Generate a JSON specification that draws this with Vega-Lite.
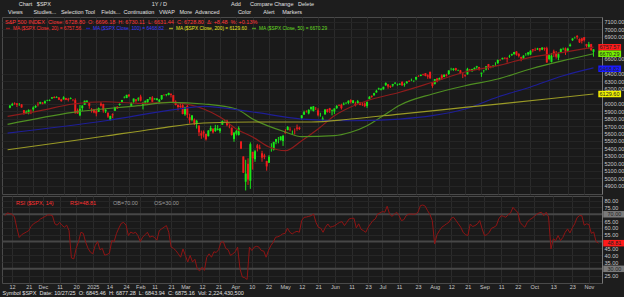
{
"$schema":"https://vega.github.io/schema/vega-lite/v6.json",
"background":"#1d1d1d",
"padding":{"left":0,"right":0,"top":1,"bottom":0},
"config":{"font":"Liberation Sans","view":{"stroke":"#4a4a4a","fill":"#1a1a1a"},"axis":{"labelFontSize":5.5,"labelColor":"#c8c8c8","ticks":false,"gridColor":"#2b2b2b","domainColor":"#777","labelOverlap":false,"tickCount":200}},
"title":{"text":"\u200b\u00a0\u00a0\u00a0\u00a0\u00a0\u00a0\u00a0\u00a0\u00a0\u00a0\u00a0Chart\u00a0\u00a0\u00a0$SPX\u00a0\u00a0\u00a0\u00a0\u00a0\u00a0\u00a0\u00a0\u00a0\u00a0\u00a0\u00a0\u00a0\u00a0\u00a0\u00a0\u00a0\u00a0\u00a0\u00a0\u00a0\u00a0\u00a0\u00a0\u00a0\u00a0\u00a0\u00a0\u00a0\u00a0\u00a0\u00a0\u00a0\u00a0\u00a0\u00a0\u00a0\u00a0\u00a0\u00a0\u00a0\u00a0\u00a0\u00a0\u00a0\u00a0\u00a0\u00a0\u00a0\u00a0\u00a0\u00a0\u00a0\u00a0\u00a0\u00a0\u00a0\u00a0\u00a0\u00a0\u00a0\u00a0\u00a0\u00a0\u00a0\u00a01Y / D\u00a0\u00a0\u00a0\u00a0\u00a0\u00a0\u00a0\u00a0\u00a0\u00a0\u00a0\u00a0\u00a0\u00a0\u00a0\u00a0\u00a0\u00a0\u00a0\u00a0\u00a0\u00a0\u00a0\u00a0\u00a0\u00a0\u00a0\u00a0\u00a0\u00a0\u00a0\u00a0\u00a0\u00a0\u00a0\u00a0\u00a0\u00a0\u00a0\u00a0\u00a0\u00a0Add\u00a0\u00a0\u00a0\u00a0\u00a0\u00a0Compare\u00a0Change\u00a0\u00a0\u00a0Delete","subtitle":"\u200b\u00a0\u00a0\u00a0\u00a0Views\u00a0\u00a0\u00a0\u00a0\u00a0\u00a0\u00a0Studies...\u00a0\u00a0\u00a0Selection Tool\u00a0\u00a0\u00a0\u00a0Fields...\u00a0\u00a0Continuation\u00a0\u00a0\u00a0VWAP\u00a0\u00a0\u00a0More\u00a0\u00a0Advanced\u00a0\u00a0\u00a0\u00a0\u00a0\u00a0\u00a0\u00a0\u00a0\u00a0\u00a0\u00a0Color\u00a0\u00a0\u00a0\u00a0\u00a0\u00a0\u00a0\u00a0Alert\u00a0\u00a0\u00a0\u00a0\u00a0Markers","anchor":"start","frame":"group","fontSize":5.5,"subtitleFontSize":5.5,"fontWeight":"normal","color":"#e0e0e0","subtitleColor":"#e0e0e0","offset":1,"subtitlePadding":3},
"resolve":{"scale":{"color":"independent","stroke":"independent","fill":"independent"},"legend":{"color":"independent","stroke":"independent"}},
"spacing":0,
"datasets":{
"k":[
{"i":-3,"o":5945,"h":5983,"l":5939,"c":5973,"r":69},
{"i":-2,"o":5977,"h":6012,"l":5970,"c":5995,"r":71},
{"i":-1,"o":6008,"h":6018,"l":5986,"c":6001,"r":70.5},
{"i":0,"o":6003,"h":6008,"l":5955,"c":5984,"r":70},
{"i":1,"o":5985,"h":6009,"l":5971,"c":5985,"r":68},
{"i":2,"o":5990,"h":5993,"l":5946,"c":5949,"r":60},
{"i":3,"o":5913,"h":5916,"l":5853,"c":5871,"r":53},
{"i":4,"o":5866,"h":5909,"l":5865,"c":5893,"r":55},
{"i":5,"o":5870,"h":5923,"l":5857,"c":5917,"r":56},
{"i":6,"o":5918,"h":5920,"l":5860,"c":5917,"r":57},
{"i":7,"o":5924,"h":5963,"l":5885,"c":5949,"r":58},
{"i":8,"o":5951,"h":5980,"l":5943,"c":5969,"r":61},
{"i":9,"o":5992,"h":6020,"l":5963,"c":5987,"r":63},
{"i":10,"o":6001,"h":6026,"l":5994,"c":6021,"r":64},
{"i":11,"o":6015,"h":6020,"l":5992,"c":5999,"r":65},
{"i":12,"o":6004,"h":6044,"l":6004,"c":6032,"r":66.6},
{"i":13,"o":6041,"h":6053,"l":6033,"c":6047,"r":67.5},
{"i":14,"o":6042,"h":6057,"l":6034,"c":6050,"r":68.5},
{"i":15,"o":6069,"h":6087,"l":6066,"c":6086,"r":69.5},
{"i":16,"o":6090,"h":6100,"l":6074,"c":6075,"r":69.5},
{"i":17,"o":6081,"h":6100,"l":6078,"c":6090,"r":69},
{"i":18,"o":6083,"h":6088,"l":6048,"c":6053,"r":63},
{"i":19,"o":6058,"h":6065,"l":6026,"c":6034,"r":62},
{"i":20,"o":6057,"h":6100,"l":6057,"c":6085,"r":64},
{"i":21,"o":6075,"h":6079,"l":6047,"c":6051,"r":62},
{"i":22,"o":6064,"h":6079,"l":6030,"c":6051,"r":60.5},
{"i":23,"o":6063,"h":6085,"l":6059,"c":6074,"r":62},
{"i":24,"o":6053,"h":6058,"l":6033,"c":6050,"r":58},
{"i":25,"o":6047,"h":6071,"l":5867,"c":5872,"r":38},
{"i":26,"o":5912,"h":5935,"l":5866,"c":5867,"r":37.3},
{"i":27,"o":5843,"h":5982,"l":5832,"c":5931,"r":45},
{"i":28,"o":5940,"h":5979,"l":5902,"c":5975,"r":50},
{"i":29,"o":5984,"h":6040,"l":5984,"c":6040,"r":56.8},
{"i":30,"o":6024,"h":6049,"l":6007,"c":6037,"r":56},
{"i":31,"o":6006,"h":6007,"l":5932,"c":5971,"r":49.5},
{"i":32,"o":5921,"h":5941,"l":5880,"c":5907,"r":45},
{"i":33,"o":5920,"h":5930,"l":5871,"c":5882,"r":42.2},
{"i":34,"o":5904,"h":5935,"l":5830,"c":5869,"r":41},
{"i":35,"o":5891,"h":5949,"l":5888,"c":5942,"r":47},
{"i":36,"o":6001,"h":6022,"l":5962,"c":5975,"r":50},
{"i":37,"o":5994,"h":6000,"l":5878,"c":5909,"r":44},
{"i":38,"o":5897,"h":5927,"l":5874,"c":5918,"r":45},
{"i":39,"o":5879,"h":5880,"l":5809,"c":5827,"r":40},
{"i":40,"o":5782,"h":5838,"l":5773,"c":5836,"r":40.5},
{"i":41,"o":5859,"h":5871,"l":5805,"c":5843,"r":41.5},
{"i":42,"o":5905,"h":5960,"l":5905,"c":5950,"r":50.7},
{"i":43,"o":5961,"h":5964,"l":5930,"c":5937,"r":50},
{"i":44,"o":5983,"h":6003,"l":5973,"c":5997,"r":56},
{"i":45,"o":6015,"h":6051,"l":6007,"c":6049,"r":60},
{"i":46,"o":6082,"h":6100,"l":6071,"c":6086,"r":63.4},
{"i":47,"o":6077,"h":6119,"l":6074,"c":6119,"r":64},
{"i":48,"o":6121,"h":6128,"l":6088,"c":6101,"r":62},
{"i":49,"o":5970,"h":6017,"l":5962,"c":6012,"r":54.4},
{"i":50,"o":6027,"h":6070,"l":6001,"c":6068,"r":57},
{"i":51,"o":6057,"h":6062,"l":6012,"c":6039,"r":56},
{"i":52,"o":6058,"h":6086,"l":6034,"c":6071,"r":56.8},
{"i":53,"o":6096,"h":6120,"l":6030,"c":6041,"r":54.4},
{"i":54,"o":5969,"h":6023,"l":5923,"c":5994,"r":50},
{"i":55,"o":5991,"h":6042,"l":5991,"c":6038,"r":53.2},
{"i":56,"o":6020,"h":6062,"l":6007,"c":6061,"r":55},
{"i":57,"o":6073,"h":6084,"l":6052,"c":6084,"r":56.8},
{"i":58,"o":6083,"h":6101,"l":6020,"c":6026,"r":53.2},
{"i":59,"o":6059,"h":6074,"l":6054,"c":6066,"r":54},
{"i":60,"o":6050,"h":6076,"l":6043,"c":6069,"r":53},
{"i":61,"o":6025,"h":6063,"l":6004,"c":6052,"r":51},
{"i":62,"o":6060,"h":6116,"l":6050,"c":6115,"r":58},
{"i":63,"o":6116,"h":6127,"l":6107,"c":6115,"r":59.3},
{"i":64,"o":6121,"h":6129,"l":6099,"c":6129,"r":60.5},
{"i":65,"o":6117,"h":6147,"l":6111,"c":6144,"r":61.7},
{"i":66,"o":6134,"h":6134,"l":6084,"c":6118,"r":56.8},
{"i":67,"o":6114,"h":6115,"l":6009,"c":6013,"r":46},
{"i":68,"o":6027,"h":6044,"l":5977,"c":5983,"r":45},
{"i":69,"o":5982,"h":5992,"l":5908,"c":5955,"r":43.4},
{"i":70,"o":5971,"h":6010,"l":5943,"c":5956,"r":41},
{"i":71,"o":5981,"h":5994,"l":5857,"c":5861,"r":38.5},
{"i":72,"o":5857,"h":5959,"l":5837,"c":5955,"r":44.6},
{"i":73,"o":5969,"h":5987,"l":5809,"c":5850,"r":39.8},
{"i":74,"o":5818,"h":5866,"l":5733,"c":5778,"r":35},
{"i":75,"o":5782,"h":5845,"l":5762,"c":5843,"r":39.8},
{"i":76,"o":5786,"h":5802,"l":5711,"c":5739,"r":35},
{"i":77,"o":5726,"h":5783,"l":5666,"c":5770,"r":37},
{"i":78,"o":5706,"h":5710,"l":5565,"c":5615,"r":30},
{"i":79,"o":5603,"h":5639,"l":5529,"c":5572,"r":28.5},
{"i":80,"o":5624,"h":5642,"l":5546,"c":5599,"r":31.2},
{"i":81,"o":5594,"h":5598,"l":5505,"c":5522,"r":28.8},
{"i":82,"o":5564,"h":5645,"l":5560,"c":5639,"r":38.5},
{"i":83,"o":5635,"h":5704,"l":5628,"c":5675,"r":41},
{"i":84,"o":5665,"h":5668,"l":5599,"c":5615,"r":38.5},
{"i":85,"o":5633,"h":5716,"l":5621,"c":5675,"r":42.5},
{"i":86,"o":5646,"h":5712,"l":5641,"c":5663,"r":42},
{"i":87,"o":5631,"h":5672,"l":5603,"c":5668,"r":44},
{"i":88,"o":5718,"h":5775,"l":5718,"c":5768,"r":49.5},
{"i":89,"o":5772,"h":5787,"l":5760,"c":5777,"r":49.8},
{"i":90,"o":5771,"h":5784,"l":5696,"c":5712,"r":45},
{"i":91,"o":5695,"h":5732,"l":5670,"c":5693,"r":44},
{"i":92,"o":5679,"h":5679,"l":5572,"c":5581,"r":39.8},
{"i":93,"o":5527,"h":5615,"l":5489,"c":5612,"r":41},
{"i":94,"o":5597,"h":5651,"l":5574,"c":5633,"r":42.5},
{"i":95,"o":5580,"h":5695,"l":5572,"c":5671,"r":45.9},
{"i":96,"o":5492,"h":5500,"l":5390,"c":5397,"r":30},
{"i":97,"o":5292,"h":5293,"l":5069,"c":5074,"r":24},
{"i":98,"o":4953,"h":5247,"l":4835,"c":5062,"r":23.5},
{"i":99,"o":5193,"h":5267,"l":4910,"c":4982,"r":22.2},
{"i":100,"o":4966,"h":5481,"l":4857,"c":5457,"r":45.9},
{"i":101,"o":5354,"h":5354,"l":5115,"c":5268,"r":43.4},
{"i":102,"o":5255,"h":5381,"l":5220,"c":5363,"r":45.9},
{"i":103,"o":5441,"h":5460,"l":5359,"c":5406,"r":46.5},
{"i":104,"o":5411,"h":5450,"l":5387,"c":5397,"r":45.9},
{"i":105,"o":5335,"h":5367,"l":5220,"c":5276,"r":43.4},
{"i":106,"o":5305,"h":5328,"l":5255,"c":5283,"r":43},
{"i":107,"o":5232,"h":5233,"l":5101,"c":5158,"r":38.5},
{"i":108,"o":5207,"h":5309,"l":5207,"c":5288,"r":43.4},
{"i":109,"o":5375,"h":5469,"l":5356,"c":5376,"r":47},
{"i":110,"o":5381,"h":5489,"l":5371,"c":5485,"r":49.5},
{"i":111,"o":5489,"h":5528,"l":5456,"c":5525,"r":53.2},
{"i":112,"o":5529,"h":5553,"l":5468,"c":5529,"r":53.5},
{"i":113,"o":5509,"h":5562,"l":5505,"c":5561,"r":54.4},
{"i":114,"o":5499,"h":5581,"l":5433,"c":5569,"r":55.6},
{"i":115,"o":5625,"h":5658,"l":5597,"c":5604,"r":56},
{"i":116,"o":5646,"h":5700,"l":5643,"c":5687,"r":59.8},
{"i":117,"o":5655,"h":5684,"l":5628,"c":5650,"r":56.8},
{"i":118,"o":5605,"h":5640,"l":5590,"c":5607,"r":55.6},
{"i":119,"o":5633,"h":5668,"l":5587,"c":5631,"r":56.8},
{"i":120,"o":5680,"h":5720,"l":5638,"c":5664,"r":57.5},
{"i":121,"o":5679,"h":5691,"l":5647,"c":5660,"r":56.8},
{"i":122,"o":5808,"h":5845,"l":5786,"c":5844,"r":65.4},
{"i":123,"o":5854,"h":5906,"l":5848,"c":5886,"r":67.8},
{"i":124,"o":5895,"h":5911,"l":5880,"c":5892,"r":68},
{"i":125,"o":5869,"h":5924,"l":5856,"c":5917,"r":68.5},
{"i":126,"o":5929,"h":5958,"l":5907,"c":5958,"r":69},
{"i":127,"o":5903,"h":5968,"l":5895,"c":5964,"r":70.2},
{"i":128,"o":5944,"h":5954,"l":5915,"c":5940,"r":64.1},
{"i":129,"o":5910,"h":5938,"l":5830,"c":5845,"r":60.5},
{"i":130,"o":5841,"h":5878,"l":5825,"c":5842,"r":59.8},
{"i":131,"o":5782,"h":5829,"l":5767,"c":5802,"r":56.8},
{"i":132,"o":5855,"h":5924,"l":5855,"c":5922,"r":60.5},
{"i":133,"o":5925,"h":5930,"l":5880,"c":5889,"r":62.9},
{"i":134,"o":5939,"h":5944,"l":5875,"c":5912,"r":60.5},
{"i":135,"o":5903,"h":5922,"l":5843,"c":5912,"r":61},
{"i":136,"o":5896,"h":5937,"l":5862,"c":5936,"r":61.7},
{"i":137,"o":5939,"h":5981,"l":5930,"c":5970,"r":63},
{"i":138,"o":5978,"h":5991,"l":5967,"c":5971,"r":64.1},
{"i":139,"o":5985,"h":5999,"l":5921,"c":5939,"r":64.6},
{"i":140,"o":5988,"h":6017,"l":5979,"c":6000,"r":61.7},
{"i":141,"o":6004,"h":6022,"l":5994,"c":6006,"r":64.1},
{"i":142,"o":6010,"h":6044,"l":5993,"c":6039,"r":66.6},
{"i":143,"o":6050,"h":6059,"l":6002,"c":6022,"r":67},
{"i":144,"o":6009,"h":6046,"l":6003,"c":6045,"r":67.1},
{"i":145,"o":6000,"h":6027,"l":5963,"c":5977,"r":60},
{"i":146,"o":6005,"h":6050,"l":6005,"c":6033,"r":63},
{"i":147,"o":6013,"h":6024,"l":5978,"c":5983,"r":59},
{"i":148,"o":5987,"h":6019,"l":5970,"c":5981,"r":58},
{"i":149,"o":6004,"h":6018,"l":5953,"c":5967,"r":56.8},
{"i":150,"o":5970,"h":6028,"l":5944,"c":6025,"r":60.5},
{"i":151,"o":6061,"h":6101,"l":6059,"c":6092,"r":63},
{"i":152,"o":6107,"h":6108,"l":6080,"c":6092,"r":65.4},
{"i":153,"o":6112,"h":6146,"l":6107,"c":6141,"r":66.6},
{"i":154,"o":6151,"h":6187,"l":6147,"c":6173,"r":70.2},
{"i":155,"o":6194,"h":6215,"l":6185,"c":6205,"r":71},
{"i":156,"o":6187,"h":6210,"l":6177,"c":6198,"r":72},
{"i":157,"o":6193,"h":6227,"l":6189,"c":6227,"r":71.5},
{"i":158,"o":6246,"h":6285,"l":6241,"c":6279,"r":75.9},
{"i":159,"o":6259,"h":6262,"l":6201,"c":6230,"r":70.2},
{"i":160,"o":6239,"h":6243,"l":6210,"c":6226,"r":68.5},
{"i":161,"o":6243,"h":6266,"l":6226,"c":6263,"r":70},
{"i":162,"o":6270,"h":6290,"l":6261,"c":6280,"r":71.5},
{"i":163,"o":6256,"h":6269,"l":6239,"c":6260,"r":69},
{"i":164,"o":6255,"h":6272,"l":6250,"c":6269,"r":65.4},
{"i":165,"o":6290,"h":6302,"l":6243,"c":6244,"r":66},
{"i":166,"o":6254,"h":6280,"l":6228,"c":6264,"r":69},
{"i":167,"o":6273,"h":6301,"l":6270,"c":6297,"r":70},
{"i":168,"o":6305,"h":6316,"l":6291,"c":6297,"r":70.2},
{"i":169,"o":6305,"h":6336,"l":6303,"c":6306,"r":70},
{"i":170,"o":6307,"h":6311,"l":6289,"c":6309,"r":70.2},
{"i":171,"o":6326,"h":6360,"l":6314,"c":6359,"r":71.5},
{"i":172,"o":6368,"h":6381,"l":6361,"c":6363,"r":76.3},
{"i":173,"o":6371,"h":6389,"l":6368,"c":6389,"r":76.8},
{"i":174,"o":6397,"h":6402,"l":6378,"c":6390,"r":76},
{"i":175,"o":6409,"h":6410,"l":6367,"c":6371,"r":72.7},
{"i":176,"o":6380,"h":6394,"l":6334,"c":6362,"r":70},
{"i":177,"o":6428,"h":6428,"l":6337,"c":6339,"r":65.4},
{"i":178,"o":6287,"h":6288,"l":6213,"c":6238,"r":48.3},
{"i":179,"o":6261,"h":6330,"l":6261,"c":6330,"r":55},
{"i":180,"o":6338,"h":6346,"l":6286,"c":6299,"r":58},
{"i":181,"o":6318,"h":6350,"l":6315,"c":6345,"r":60.5},
{"i":182,"o":6380,"h":6394,"l":6318,"c":6340,"r":61.7},
{"i":183,"o":6357,"h":6392,"l":6355,"c":6389,"r":63},
{"i":184,"o":6388,"h":6401,"l":6364,"c":6374,"r":64.1},
{"i":185,"o":6398,"h":6446,"l":6386,"c":6446,"r":67.1},
{"i":186,"o":6466,"h":6481,"l":6445,"c":6466,"r":67.8},
{"i":187,"o":6453,"h":6476,"l":6441,"c":6469,"r":65.4},
{"i":188,"o":6478,"h":6481,"l":6441,"c":6450,"r":63},
{"i":189,"o":6445,"h":6457,"l":6437,"c":6449,"r":60.5},
{"i":190,"o":6447,"h":6453,"l":6400,"c":6411,"r":56.8},
{"i":191,"o":6402,"h":6408,"l":6343,"c":6396,"r":55},
{"i":192,"o":6381,"h":6394,"l":6360,"c":6370,"r":54.4},
{"i":193,"o":6394,"h":6481,"l":6389,"c":6467,"r":62.9},
{"i":194,"o":6458,"h":6467,"l":6438,"c":6439,"r":61},
{"i":195,"o":6434,"h":6467,"l":6430,"c":6466,"r":61.7},
{"i":196,"o":6459,"h":6486,"l":6457,"c":6481,"r":62.9},
{"i":197,"o":6487,"h":6508,"l":6469,"c":6502,"r":65.4},
{"i":198,"o":6491,"h":6494,"l":6444,"c":6460,"r":59.3},
{"i":199,"o":6401,"h":6416,"l":6360,"c":6416,"r":54.4},
{"i":200,"o":6444,"h":6454,"l":6418,"c":6448,"r":55},
{"i":201,"o":6459,"h":6502,"l":6447,"c":6502,"r":56.8},
{"i":202,"o":6530,"h":6533,"l":6454,"c":6482,"r":59.8},
{"i":203,"o":6505,"h":6508,"l":6475,"c":6495,"r":60.5},
{"i":204,"o":6496,"h":6513,"l":6486,"c":6512,"r":61.7},
{"i":205,"o":6531,"h":6555,"l":6505,"c":6532,"r":66.6},
{"i":206,"o":6545,"h":6592,"l":6533,"c":6587,"r":69},
{"i":207,"o":6588,"h":6594,"l":6575,"c":6584,"r":68.5},
{"i":208,"o":6596,"h":6616,"l":6594,"c":6615,"r":67.8},
{"i":209,"o":6616,"h":6622,"l":6597,"c":6607,"r":69.8},
{"i":210,"o":6610,"h":6623,"l":6551,"c":6600,"r":71},
{"i":211,"o":6626,"h":6656,"l":6615,"c":6632,"r":75.1},
{"i":212,"o":6650,"h":6671,"l":6642,"c":6664,"r":73},
{"i":213,"o":6662,"h":6695,"l":6661,"c":6694,"r":71.5},
{"i":214,"o":6701,"h":6703,"l":6644,"c":6657,"r":64.1},
{"i":215,"o":6670,"h":6675,"l":6620,"c":6638,"r":62},
{"i":216,"o":6625,"h":6631,"l":6569,"c":6605,"r":60.5},
{"i":217,"o":6605,"h":6651,"l":6603,"c":6644,"r":64.1},
{"i":218,"o":6661,"h":6679,"l":6643,"c":6661,"r":66},
{"i":219,"o":6661,"h":6693,"l":6644,"c":6688,"r":67},
{"i":220,"o":6660,"h":6716,"l":6654,"c":6711,"r":68.5},
{"i":221,"o":6731,"h":6731,"l":6689,"c":6715,"r":70},
{"i":222,"o":6722,"h":6750,"l":6706,"c":6716,"r":71},
{"i":223,"o":6727,"h":6749,"l":6722,"c":6740,"r":71.5},
{"i":224,"o":6746,"h":6747,"l":6700,"c":6714,"r":69},
{"i":225,"o":6725,"h":6756,"l":6718,"c":6753,"r":71.5},
{"i":226,"o":6750,"h":6753,"l":6711,"c":6735,"r":68},
{"i":227,"o":6744,"h":6764,"l":6550,"c":6553,"r":44.6},
{"i":228,"o":6599,"h":6664,"l":6582,"c":6655,"r":52},
{"i":229,"o":6561,"h":6680,"l":6553,"c":6644,"r":50.7},
{"i":230,"o":6700,"h":6725,"l":6625,"c":6671,"r":54.4},
{"i":231,"o":6676,"h":6707,"l":6604,"c":6630,"r":50.7},
{"i":232,"o":6618,"h":6688,"l":6583,"c":6664,"r":53},
{"i":233,"o":6686,"h":6740,"l":6686,"c":6735,"r":56.8},
{"i":234,"o":6735,"h":6752,"l":6718,"c":6736,"r":59.3},
{"i":235,"o":6743,"h":6754,"l":6654,"c":6699,"r":56.3},
{"i":236,"o":6712,"h":6751,"l":6699,"c":6738,"r":60},
{"i":237,"o":6770,"h":6808,"l":6770,"c":6792,"r":63},
{"i":238,"o":6850,"h":6877,"l":6843,"c":6875,"r":67.5},
{"i":239,"o":6891,"h":6899,"l":6872,"c":6891,"r":69},
{"i":240,"o":6910,"h":6920,"l":6862,"c":6891,"r":69},
{"i":241,"o":6868,"h":6875,"l":6814,"c":6822,"r":62},
{"i":242,"o":6876,"h":6883,"l":6808,"c":6840,"r":63},
{"i":243,"o":6892,"h":6893,"l":6834,"c":6852,"r":62.5},
{"i":244,"o":6800,"h":6803,"l":6753,"c":6772,"r":56},
{"i":245,"o":6762,"h":6829,"l":6739,"c":6796,"r":57},
{"i":246,"o":6800,"h":6803,"l":6708,"c":6720,"r":50},
{"i":247,"o":6696,"h":6730,"l":6631,"c":6729,"r":48.81}
],
"ma":[
{"s":"20","i":-4,"v":5830},{"s":"20","i":10,"v":5906},{"s":"20","i":24,"v":5996},{"s":"20","i":38,"v":6026},{"s":"20","i":52,"v":6005},{"s":"20","i":66,"v":6018},{"s":"20","i":80,"v":5928},{"s":"20","i":87,"v":5821},{"s":"20","i":94,"v":5661},{"s":"20","i":101,"v":5553},{"s":"20","i":108,"v":5419},{"s":"20","i":115,"v":5369},{"s":"20","i":122,"v":5503},{"s":"20","i":129,"v":5660},{"s":"20","i":136,"v":5838},{"s":"20","i":143,"v":5955},{"s":"20","i":150,"v":6040},{"s":"20","i":164,"v":6153},{"s":"20","i":178,"v":6287},{"s":"20","i":192,"v":6425},{"s":"20","i":206,"v":6510},{"s":"20","i":220,"v":6622},{"s":"20","i":234,"v":6689},{"s":"20","i":247,"v":6758},
{"s":"50","i":-4,"v":5723},{"s":"50","i":24,"v":5884},{"s":"50","i":52,"v":5973},{"s":"50","i":66,"v":6018},{"s":"50","i":80,"v":5996},{"s":"50","i":94,"v":5928},{"s":"50","i":101,"v":5794},{"s":"50","i":115,"v":5620},{"s":"50","i":122,"v":5557},{"s":"50","i":136,"v":5570},{"s":"50","i":143,"v":5616},{"s":"50","i":150,"v":5704},{"s":"50","i":157,"v":5840},{"s":"50","i":164,"v":5980},{"s":"50","i":178,"v":6130},{"s":"50","i":192,"v":6241},{"s":"50","i":206,"v":6331},{"s":"50","i":220,"v":6465},{"s":"50","i":234,"v":6577},{"s":"50","i":247,"v":6670},
{"s":"100","i":-4,"v":5606},{"s":"100","i":38,"v":5771},{"s":"100","i":69,"v":5928},{"s":"100","i":80,"v":5965},{"s":"100","i":101,"v":5888},{"s":"100","i":122,"v":5794},{"s":"100","i":143,"v":5771},{"s":"100","i":164,"v":5794},{"s":"100","i":178,"v":5839},{"s":"100","i":192,"v":5928},{"s":"100","i":206,"v":6090},{"s":"100","i":220,"v":6224},{"s":"100","i":234,"v":6375},{"s":"100","i":247,"v":6480},
{"s":"200","i":-4,"v":5382},{"s":"200","i":17,"v":5472},{"s":"200","i":38,"v":5566},{"s":"200","i":59,"v":5660},{"s":"200","i":80,"v":5741},{"s":"200","i":101,"v":5754},{"s":"200","i":126,"v":5754},{"s":"200","i":143,"v":5794},{"s":"200","i":164,"v":5861},{"s":"200","i":185,"v":5928},{"s":"200","i":206,"v":5995},{"s":"200","i":227,"v":6063},{"s":"200","i":247,"v":6130}
],
"tags":[{"s":"20","i":247,"v":6757.57},{"s":"50","i":247,"v":6670.29},{"s":"100","i":247,"v":6468.82},{"s":"200","i":247,"v":6129.60}],
"rtags":[{"s":"OB","i":247,"v":70},{"s":"OS","i":247,"v":30},{"s":"RSI","i":247,"v":48.81}]
},
"vconcat":[
{"width":600,"height":177,
"layer":[
{"data":{"name":"k"},"mark":{"type":"rule","strokeWidth":1},
"encoding":{
"x":{"field":"i","type":"quantitative","scale":{"domain":[-4.25,248.5],"nice":false,"zero":false},"axis":{"values":[0,7,13,20,27,34,41,48,54,60,67,73,80,87,94,101,108,115,122,129,136,143,150,156,163,171,178,185,192,199,206,213,220,228,236,243],"tickCount":200,"labels":false,"domain":false,"grid":true,"title":null,"labelPadding":0}},
"y":{"field":"l","type":"quantitative","scale":{"domain":[4788,7163],"nice":false,"zero":false},"axis":{"orient":"right","values":[4900,5000,5100,5200,5300,5400,5500,5600,5700,5800,5900,6000,6200,6300,6400,6600,6900,7000,7100],"tickCount":200,"format":".2f","title":null,"grid":true,"gridColor":"#252525","labelPadding":2,"labelOverlap":false}},
"y2":{"field":"h"},
"color":{"condition":{"test":"datum.c >= datum.o","value":"#19e619"},"value":"#ee1c1c"}}},
{"data":{"name":"k"},"mark":{"type":"bar","size":2},
"encoding":{
"x":{"field":"i","type":"quantitative"},
"y":{"field":"o","type":"quantitative"},
"y2":{"field":"c"},
"color":{"condition":{"test":"datum.c >= datum.o","value":"#19e619"},"value":"#ee1c1c"}}},
{"data":{"name":"ma"},"mark":{"type":"line","strokeWidth":1.2,"interpolate":"monotone"},
"encoding":{
"x":{"field":"i","type":"quantitative"},
"y":{"field":"v","type":"quantitative"},
"color":{"field":"s","type":"nominal","scale":{"domain":["20","100","200","50"],"range":["#8e1c1c","#1e1e96","#9a9a26","#4f8f22"]},
"legend":{"orient":"top-left","direction":"horizontal","columns":4,"gridAlign":"none","offset":2,"padding":1,"columnPadding":1,"rowPadding":0,"title":"S&P 500 INDEX\u00a0\u00a0Close: 6728.80\u00a0\u00a0O: 6696.18\u00a0\u00a0H: 6730.11\u00a0\u00a0L: 6631.44\u00a0\u00a0C: 6728.80\u00a0\u00a0Δ: +8.48\u00a0\u00a0%: +0.13%","titleColor":"#ff3535","titleFontSize":5.5,"titleFontWeight":"normal","titleLimit":400,"titlePadding":0,"labelFontSize":4.8,"labelLimit":200,"labelOffset":2,"symbolType":"stroke","symbolSize":16,"symbolStrokeWidth":1.5,"labelExpr":"datum.label=='20'?'MA ($SPX Close, 20) = 6757.56':datum.label=='100'?'MA ($SPX Close, 100) = 6468.82':datum.label=='200'?'MA ($SPX Close, 200) = 6129.60':'MA ($SPX Close, 50) = 6670.29'","encode":{"labels":{"update":{"fill":{"signal":"datum.value=='20'?'#ff3030':datum.value=='100'?'#3a3aff':datum.value=='200'?'#e6e620':'#66dd22'"}}}}}}}},
{"data":{"name":"tags"},"mark":{"type":"point","shape":"M0.4,-0.27H2.3V0.27H0.4Z","size":576,"filled":true,"opacity":1,"strokeWidth":0},
"encoding":{"x":{"field":"i","type":"quantitative"},"y":{"field":"v","type":"quantitative"},
"fill":{"field":"s","type":"nominal","scale":{"domain":["20","100","200","50"],"range":["#ff1a1a","#1a1aff","#f0f000","#76f000"]},"legend":null}}},
{"data":{"name":"tags"},"mark":{"type":"text","dx":16,"align":"center","baseline":"middle","fontSize":5.5,"color":"#222222"},
"encoding":{"x":{"field":"i","type":"quantitative"},"y":{"field":"v","type":"quantitative"},"text":{"field":"v","type":"quantitative","format":".2f"}}}
]},
{"width":600,"height":87,
"layer":[
{"data":{"values":[{"v":30},{"v":50},{"v":70}]},"mark":{"type":"rule","color":"#474747","strokeWidth":2},
"encoding":{"y":{"field":"v","type":"quantitative","scale":{"domain":[19.6,83.4],"nice":false,"zero":false},"axis":{"orient":"right","values":[25,35,40,45,55,60,65,75,80],"tickCount":200,"format":".2f","title":null,"grid":true,"gridColor":"#262626","labelPadding":2,"labelOverlap":false}}}},
{"data":{"name":"k"},"mark":{"type":"line","strokeWidth":1},
"encoding":{
"x":{"field":"i","type":"quantitative","scale":{"domain":[-4.25,248.5],"nice":false,"zero":false},"axis":{"values":[0,7,13,20,27,34,41,48,54,60,67,73,80,87,94,101,108,115,122,129,136,143,150,156,163,171,178,185,192,199,206,213,220,228,236,243],"tickCount":200,"labelExpr":"['12','21','Dec','11','20','2025','14','24','Feb','11','21','Mar','12','21','Apr','10','22','May','12','21','Jun','11','23','Jul','11','23','Aug','12','21','Sep','11','22','Oct','13','23','Nov'][indexof([0,7,13,20,27,34,41,48,54,60,67,73,80,87,94,101,108,115,122,129,136,143,150,156,163,171,178,185,192,199,206,213,220,228,236,243], datum.value)]","labelPadding":1,"labelOverlap":false,"domain":false,"grid":true,"title":"Symbol $SPX\u00a0\u00a0Date: 10/27/25\u00a0\u00a0O: 6845.46\u00a0\u00a0H: 6877.28\u00a0\u00a0L: 6843.94\u00a0\u00a0C: 6875.16\u00a0\u00a0Vol: 2,224,430,500","titleAnchor":"start","titleFontSize":5.5,"titleFontWeight":"normal","titleColor":"#e0e0e0","titlePadding":1}},
"y":{"field":"r","type":"quantitative"},
"stroke":{"datum":"RSI ($SPX, 14)","scale":{"domain":["RSI ($SPX, 14)","RSI=48.81","OB=70.00","OS=30.00"],"range":["#8e1414","#8e1414","#666666","#666666"]},
"legend":{"orient":"top-left","direction":"horizontal","columns":4,"gridAlign":"none","offset":2,"padding":1,"columnPadding":5,"title":null,"labelFontSize":5.5,"symbolType":"stroke","symbolSize":30,"symbolOpacity":0,"encode":{"labels":{"update":{"fill":{"signal":"indexof(['OB=70.00','OS=30.00'], datum.value) >= 0 ? '#9a9a9a' : '#ff3030'"}}}}}}}},
{"data":{"name":"rtags"},"mark":{"type":"point","shape":"M0.4,-0.27H2.3V0.27H0.4Z","size":576,"filled":true,"opacity":1,"strokeWidth":0},
"encoding":{"x":{"field":"i","type":"quantitative"},"y":{"field":"v","type":"quantitative"},
"fill":{"field":"s","type":"nominal","scale":{"domain":["OB","OS","RSI"],"range":["#7a7a7a","#7a7a7a","#ff1a1a"]},"legend":null}}},
{"data":{"name":"rtags"},"mark":{"type":"text","dx":16,"align":"center","baseline":"middle","fontSize":5.5,"color":"#222222"},
"encoding":{"x":{"field":"i","type":"quantitative"},"y":{"field":"v","type":"quantitative"},"text":{"field":"v","type":"quantitative","format":".2f"}}}
]}
]
}
